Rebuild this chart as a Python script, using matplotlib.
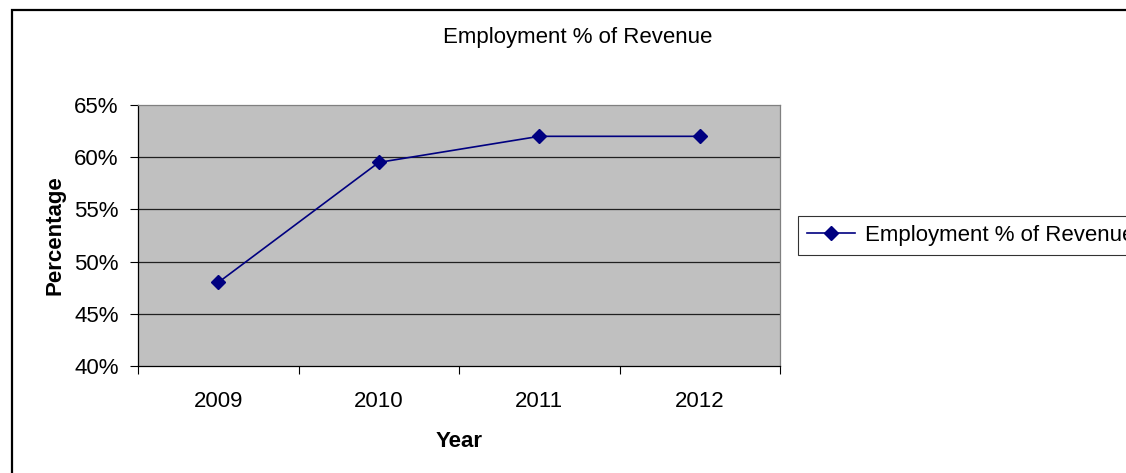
import matplotlib.pyplot as plt
from matplotlib.patches import Rectangle
from matplotlib.ticker import FixedLocator, FuncFormatter

years = ["2009", "2010", "2011", "2012"]
employment_pct = [48.0, 59.5, 62.0, 62.0]
y_ticks = [40, 45, 50, 55, 60, 65]

plt.rcParams['font.family'] = ['Liberation Sans', 'DejaVu Sans']

W, H = 1126, 473
FS = 16
fig = plt.figure(figsize=(W / 100, H / 100), dpi=100)

# outer chart frame (only top/left edges fall inside the image)
fig.patches.append(Rectangle((12 / W, -0.1), 1.2, 1 - 10 / H + 0.1,
                             transform=fig.transFigure, fill=False,
                             edgecolor='black', lw=1.6, zorder=0))

ax = fig.add_axes([138 / W, 1 - 366 / H, 642 / W, 261 / H])
ax.set_facecolor('#c0c0c0')

x = list(range(len(years)))
ax.plot(x, employment_pct, color='#000080', lw=1.2, marker='D', markersize=7,
        label='Employment % of Revenue', zorder=3)

ax.set_xlim(-0.5, len(years) - 0.5)
ax.set_ylim(40, 65)

# category ticks sit between the years, labels at the centres
ax.xaxis.set_major_locator(FixedLocator([i - 0.5 for i in range(len(years) + 1)]))
ax.xaxis.set_major_formatter(FuncFormatter(lambda v, p: ''))
ax.set_xticks(x, years, minor=True)
ax.tick_params(axis='x', which='major', length=6, width=0.8, direction='out')
ax.tick_params(axis='x', which='minor', length=0, pad=18, labelsize=FS)

ax.set_yticks(y_ticks, [f"{t}%" for t in y_ticks])
ax.tick_params(axis='y', length=6, width=0.8, direction='out', pad=8, labelsize=FS)

for t in y_ticks[1:-1]:
    ax.axhline(t, color='#202020', lw=0.9, zorder=1)

for side in ('left', 'bottom'):
    ax.spines[side].set_color('black')
    ax.spines[side].set_linewidth(0.9)
for side in ('top', 'right'):
    ax.spines[side].set_color('#808080')
    ax.spines[side].set_linewidth(0.9)

ax.set_xlabel('Year', fontsize=FS, fontweight='bold', labelpad=14)
ax.set_ylabel('Percentage', fontsize=FS, fontweight='bold', labelpad=6)

fig.text(578 / W, 1 - 37 / H, 'Employment % of Revenue', ha='center', va='center', fontsize=FS)

leg = ax.legend(loc='upper left', bbox_to_anchor=(798 / W, 1 - 216 / H),
                bbox_transform=fig.transFigure, fontsize=FS, frameon=True,
                fancybox=False, handlelength=2.15, borderpad=0.4,
                handletextpad=0.45, borderaxespad=0)
leg.get_frame().set_edgecolor('black')
leg.get_frame().set_linewidth(0.8)

fig.savefig('out.png', dpi=100)
